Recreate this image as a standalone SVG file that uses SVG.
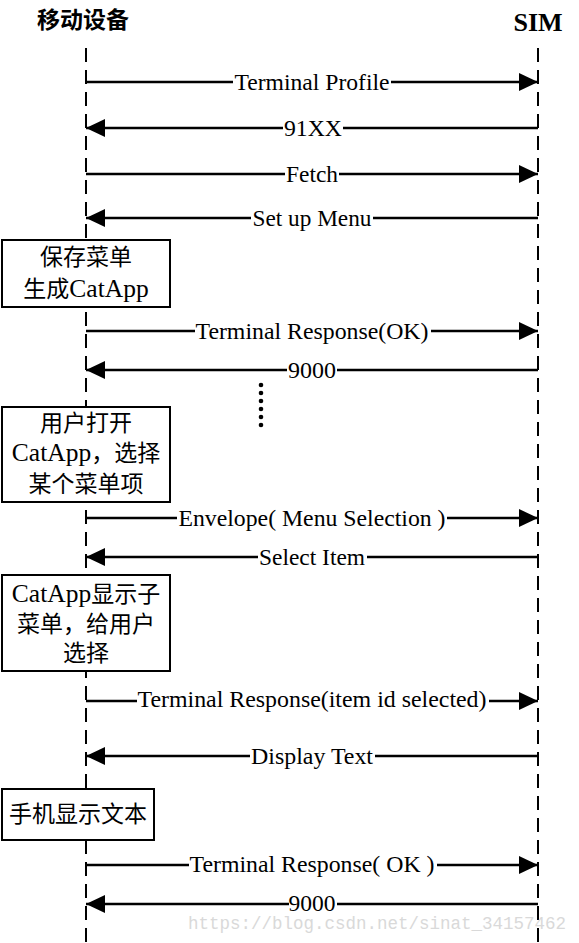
<svg xmlns="http://www.w3.org/2000/svg" width="579" height="943" viewBox="0 0 579 943">
<style>
.life{stroke:#000;stroke-width:2;stroke-dasharray:14 8;fill:none}
.msg{stroke:#000;stroke-width:2.5;fill:none}
.lbl{font-family:"Liberation Serif","Noto Sans CJK SC",serif;font-size:24px;fill:#000;text-anchor:middle}
.bg{fill:#fff}
.box{fill:#fff;stroke:#000;stroke-width:2}
.bt{font-family:"Liberation Serif","Noto Sans CJK SC",serif;font-size:23px;fill:#000;text-anchor:middle}
.lat{font-size:25.5px}
.title{font-family:"Liberation Serif","Noto Sans CJK SC",serif;font-weight:bold;fill:#000}
.wm{font-family:"Liberation Mono",monospace;font-size:17.5px;fill:#d9d9d9}
</style>
<defs>
<marker id="ah" markerUnits="userSpaceOnUse" markerWidth="20" markerHeight="18" refX="19" refY="9" orient="auto">
<path d="M0,0 L19,9 L0,18 Z" fill="#000"/>
</marker>
</defs>
<rect width="579" height="943" fill="#fff"/>
<g id="title-mobile"><text class="title" x="83" y="28" font-size="23" text-anchor="middle">移动设备</text></g>
<g id="title-sim"><text class="title" x="538" y="31" font-size="26" text-anchor="middle">SIM</text></g>
<g id="lifelines">
<line class="life" x1="86" y1="48" x2="86" y2="943"/>
<line class="life" x1="538" y1="48" x2="538" y2="943"/>
</g>
<g id="connectors">
<line class="msg" x1="86" y1="82" x2="538" y2="82" marker-end="url(#ah)"/>
<line class="msg" x1="538" y1="128" x2="86" y2="128" marker-end="url(#ah)"/>
<line class="msg" x1="86" y1="174" x2="538" y2="174" marker-end="url(#ah)"/>
<line class="msg" x1="538" y1="218" x2="86" y2="218" marker-end="url(#ah)"/>
<line class="msg" x1="86" y1="331" x2="538" y2="331" marker-end="url(#ah)"/>
<line class="msg" x1="538" y1="370" x2="86" y2="370" marker-end="url(#ah)"/>
<line class="msg" x1="86" y1="518" x2="538" y2="518" marker-end="url(#ah)"/>
<line class="msg" x1="538" y1="557" x2="86" y2="557" marker-end="url(#ah)"/>
<line class="msg" x1="86" y1="701" x2="538" y2="701" marker-end="url(#ah)"/>
<line class="msg" x1="538" y1="756" x2="86" y2="756" marker-end="url(#ah)"/>
<line class="msg" x1="86" y1="865" x2="538" y2="865" marker-end="url(#ah)"/>
<line class="msg" x1="538" y1="904" x2="86" y2="904" marker-end="url(#ah)"/>
<rect class="bg" x="233" y="70" width="158" height="24"/>
<text class="lbl" x="312" y="90" textLength="155" lengthAdjust="spacingAndGlyphs">Terminal Profile</text>
<rect class="bg" x="283" y="116" width="60" height="24"/>
<text class="lbl" x="313" y="136" textLength="58" lengthAdjust="spacingAndGlyphs">91XX</text>
<rect class="bg" x="285" y="162" width="54" height="24"/>
<text class="lbl" x="312" y="182" textLength="52" lengthAdjust="spacingAndGlyphs">Fetch</text>
<rect class="bg" x="251" y="206" width="122" height="24"/>
<text class="lbl" x="312" y="226" textLength="119" lengthAdjust="spacingAndGlyphs">Set up Menu</text>
<rect class="bg" x="195" y="319" width="236" height="24"/>
<text class="lbl" x="312" y="339" textLength="233" lengthAdjust="spacingAndGlyphs">Terminal Response(OK)</text>
<rect class="bg" x="287" y="358" width="50" height="24"/>
<text class="lbl" x="312" y="378" textLength="48" lengthAdjust="spacingAndGlyphs">9000</text>
<rect class="bg" x="177" y="506" width="270" height="24"/>
<text class="lbl" x="312" y="526" textLength="267" lengthAdjust="spacingAndGlyphs">Envelope( Menu Selection )</text>
<rect class="bg" x="258" y="545" width="109" height="24"/>
<text class="lbl" x="312" y="565" textLength="106" lengthAdjust="spacingAndGlyphs">Select Item</text>
<rect class="bg" x="137" y="689" width="352" height="24"/>
<text class="lbl" x="312" y="707" textLength="349" lengthAdjust="spacingAndGlyphs">Terminal Response(item id selected)</text>
<rect class="bg" x="250" y="744" width="125" height="24"/>
<text class="lbl" x="312" y="764" textLength="122" lengthAdjust="spacingAndGlyphs">Display Text</text>
<rect class="bg" x="189" y="853" width="248" height="24"/>
<text class="lbl" x="312" y="872" textLength="245" lengthAdjust="spacingAndGlyphs">Terminal Response( OK )</text>
<rect class="bg" x="289" y="892" width="48" height="24"/>
<text class="lbl" x="312" y="911" textLength="47" lengthAdjust="spacingAndGlyphs">9000</text>
</g>
<g id="ellipsis" fill="#000">
<circle cx="261" cy="385" r="2.3"/>
<circle cx="261" cy="393" r="2.3"/>
<circle cx="261" cy="401" r="2.3"/>
<circle cx="261" cy="409" r="2.3"/>
<circle cx="261" cy="417" r="2.3"/>
<circle cx="261" cy="425" r="2.3"/>
</g>
<g id="box-save-menu">
<rect class="box" x="2" y="240" width="168" height="67"/>
<text class="bt" x="86" y="265">保存菜单</text>
<text class="bt" x="86" y="297">生成<tspan class="lat">CatApp</tspan></text>
</g>
<g id="box-user-open">
<rect class="box" x="2" y="407" width="168" height="95"/>
<text class="bt" x="86" y="431">用户打开</text>
<text class="bt" x="86" y="461"><tspan class="lat">CatApp</tspan>，选择</text>
<text class="bt" x="86" y="492">某个菜单项</text>
</g>
<g id="box-show-submenu">
<rect class="box" x="2" y="575" width="168" height="96"/>
<text class="bt" x="86" y="602"><tspan class="lat">CatApp</tspan>显示子</text>
<text class="bt" x="86" y="632">菜单，给用户</text>
<text class="bt" x="86" y="661">选择</text>
</g>
<g id="box-show-text">
<rect class="box" x="2" y="789" width="152" height="51"/>
<text class="bt" x="78" y="822">手机显示文本</text>
</g>
<text class="wm" x="188" y="929">https://blog.csdn.net/sinat_34157462</text>
</svg>
